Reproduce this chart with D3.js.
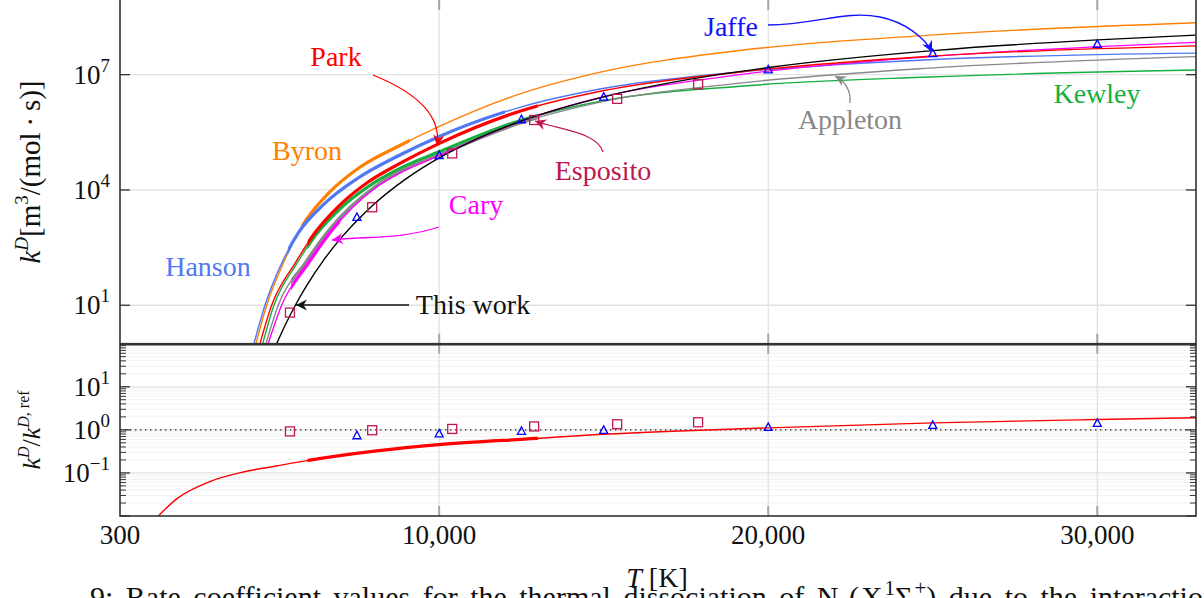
<!DOCTYPE html>
<html><head><meta charset="utf-8">
<script src="https://cdn.jsdelivr.net/npm/d3@7"></script>
<style>
body{margin:0;background:#fff}
svg{display:block}
text{font-family:"Liberation Serif","Times New Roman",serif;fill:#111}
</style>
</head><body>
<svg id="c" width="1204" height="598"></svg>
<script>
// ---------- data (k given as log10 values) ----------
const tempTicks=[300,10000,20000,30000];
const tempTickLabels=["300","10,000","20,000","30,000"];
const kTickVals=[10,1e4,1e7];
const kTickExp=["1","4","7"];
const ratioTickVals=[0.1,1,10];
const ratioTickExp=["\u22121","0","1"];

const thisWorkT=[5060,5300,5650,6000,6500,7000,7500,8000,9000,10000,11000,12500,15000,17500,20000,25000,30000,33000];
const thisWorkLogK=[0,0.449,1.034,1.549,2.188,2.733,3.20,3.614,4.294,4.835,5.273,5.795,6.423,6.863,7.186,7.626,7.906,8.03];

const byronT=[4432,4757,5261,5841,6625,7612,8806,10022,12452,14973,19136,24908,33000];
const byronLogK=[0,1.0,2.09,3.07,3.906,4.603,5.157,5.66,6.50,7.08,7.63,8.03,8.35];
const byronRange=[5800,9100];

const hansonT=[4371,4705,5212,5729,6498,7524,8806,10022,12452,14973,19136,24908,33000];
const hansonLogK=[0,1.0,2.09,2.894,3.63,4.304,4.91,5.40,6.15,6.64,7.07,7.39,7.56];
const hansonRange=[5400,12000];

const parkT=[4553,4909,5617,6236,6973,7831,8806,10022,12452,14973,19136,24908,33000];
const parkLogK=[0,1.0,2.09,2.899,3.599,4.2,4.69,5.22,6.05,6.58,7.07,7.48,7.75];
const parkRange=[6000,13000];

const kewleyT=[4635,4978,5677,6252,6964,7816,8806,10022,12452,14973,19136,24908,33000];
const kewleyLogK=[0,1.0,2.09,2.834,3.492,4.07,4.56,5.0,5.80,6.32,6.70,6.94,7.12];
const kewleyRange=[6000,13000];

const appletonT=[4736,5109,5920,6573,7272,8017,8806,10022,12452,14973,19136,24908,33000];
const appletonLogK=[0,1.0,2.09,2.873,3.531,4.065,4.48,4.92,5.74,6.30,6.78,7.17,7.47];
const appletonRange=[5500,13000];

const caryT=[4802,5212,6021,6671,7351,8062,8806,10022,12452,14973,19136,24908,33000];
const caryLogK=[0,1.0,2.09,2.875,3.529,4.052,4.44,4.90,5.78,6.42,7.0,7.47,7.84];
const caryRange=[5500,7000];

const espositoT=[5465,7964,10396,12886,15409,17869];
const espositoLogK=[0.81,3.55,4.95,5.82,6.37,6.75];
const espositoRatio=[0.92,0.98,1.05,1.2,1.35,1.5];

const jaffeT=[7500,10000,12500,15000,20000,25000,30000];
const jaffeLogK=[3.30,4.91,5.84,6.43,7.14,7.56,7.80];
const jaffeRatio=[0.75,0.83,0.95,1.0,1.17,1.3,1.45];

const parkRatioT=[1464,2022,3034,4046,5061,6021,8099,9983,12957,14579,20000,25000,30000,33000];
const parkRatio=[0.01,0.025,0.063,0.105,0.145,0.195,0.324,0.452,0.631,0.759,1.11,1.45,1.74,1.91];

// ---------- scales ----------
const svg=d3.select('#c');
const L=120,R=1196,topY0=-2.2,topY1=343.7,botY0=343.7,botY1=516;
const x=d3.scaleLinear().domain([300,33000]).range([L,R]);
const yT=d3.scaleLog().domain([1,1e9]).range([topY1,topY0]);
const yB=d3.scaleLog().domain([0.01,100]).range([botY1,botY0]);
const pow10=v=>Math.pow(10,v);

const defs=svg.append('defs');
function clip(id,x0,y0,x1,y1){defs.append('clipPath').attr('id',id).append('rect').attr('x',x0).attr('y',y0).attr('width',x1-x0).attr('height',y1-y0);}
clip('cTop',L,topY0-5,R,topY1);
clip('cBot',L,botY0,R,botY1);

const gridC='#e2e2e2', minorC='#f2f2f2';

// ---------- grids ----------
const gTop=svg.append('g');
gTop.selectAll('.vg').data(tempTicks.slice(1)).join('line')
  .attr('x1',d=>x(d)).attr('x2',d=>x(d)).attr('y1',0).attr('y2',topY1)
  .attr('stroke',gridC).attr('stroke-width',1.3);
gTop.selectAll('.hg').data(kTickVals).join('line')
  .attr('x1',L).attr('x2',R).attr('y1',d=>yT(d)).attr('y2',d=>yT(d))
  .attr('stroke',gridC).attr('stroke-width',1.3);

const gBot=svg.append('g');
const minorVals=[];
[0.01,0.1,1,10].forEach(dec=>{for(let m=2;m<=9;m++)minorVals.push(dec*m);});
gBot.selectAll('.mg').data(minorVals).join('line')
  .attr('x1',L).attr('x2',R).attr('y1',d=>yB(d)).attr('y2',d=>yB(d))
  .attr('stroke',minorC).attr('stroke-width',1);
gBot.selectAll('.hg').data(ratioTickVals).join('line')
  .attr('x1',L).attr('x2',R).attr('y1',d=>yB(d)).attr('y2',d=>yB(d))
  .attr('stroke',gridC).attr('stroke-width',1.3);
gBot.selectAll('.vg').data(tempTicks.slice(1)).join('line')
  .attr('x1',d=>x(d)).attr('x2',d=>x(d)).attr('y1',botY0).attr('y2',botY1)
  .attr('stroke',gridC).attr('stroke-width',1.3);

[[0,topY1],[botY0,botY1]].forEach(([a,b])=>{
  svg.append('g').selectAll('line').data(tempTicks.slice(1)).join('line')
    .attr('x1',d=>x(d)).attr('x2',d=>x(d)).attr('y1',a).attr('y2',a+10)
    .attr('stroke','#a6a6a6').attr('stroke-width',2);
  svg.append('g').selectAll('line').data(tempTicks.slice(1)).join('line')
    .attr('x1',d=>x(d)).attr('x2',d=>x(d)).attr('y1',b-10).attr('y2',b)
    .attr('stroke','#a6a6a6').attr('stroke-width',2);
});

// ---------- top panel curves ----------
const series=[
  {T:byronT,K:byronLogK.map(pow10),c:'#ff8000',r:byronRange},
  {T:hansonT,K:hansonLogK.map(pow10),c:'#4f78f2',r:hansonRange},
  {T:kewleyT,K:kewleyLogK.map(pow10),c:'#13b03e',r:kewleyRange},
  {T:appletonT,K:appletonLogK.map(pow10),c:'#888888',r:appletonRange},
  {T:caryT,K:caryLogK.map(pow10),c:'#ff00ff',r:caryRange},
  {T:parkT,K:parkLogK.map(pow10),c:'#ff0000',r:parkRange},
  {T:thisWorkT,K:thisWorkLogK.map(pow10),c:'#000000',r:null}
];
const lineTop=d3.line().x(d=>x(d[0])).y(d=>yT(d[1])).curve(d3.curveMonotoneX);
const curves=svg.append('g').attr('clip-path','url(#cTop)');
series.forEach((s,i)=>{
  const pts=s.T.map((t,j)=>[t,s.K[j]]);
  curves.append('path').attr('d',lineTop(pts)).attr('fill','none').attr('stroke',s.c).attr('stroke-width',1.4);
  if(s.r){
    const id='th'+i;
    clip(id,x(s.r[0]),topY0-5,x(s.r[1]),topY1);
    curves.append('g').attr('clip-path',`url(#${id})`).append('path').attr('d',lineTop(pts))
      .attr('fill','none').attr('stroke',s.c).attr('stroke-width',3.2);
  }
});

const sqC='#c0164f', triC='#0000ff';
function squares(g,T,V,ys){
  g.selectAll('rect.sq').data(T).join('rect')
   .attr('x',(d,i)=>x(d)-4.5).attr('y',(d,i)=>ys(V[i])-4.5).attr('width',9).attr('height',9)
   .attr('fill','none').attr('stroke',sqC).attr('stroke-width',1.3);
}
function triangles(g,T,V,ys){
  g.selectAll('path.tr').data(T).join('path')
   .attr('d',(d,i)=>{const cx=x(d),cy=ys(V[i]);return `M${cx-4},${cy+3.5}L${cx+4},${cy+3.5}L${cx},${cy-4}Z`;})
   .attr('fill','none').attr('stroke',triC).attr('stroke-width',1.3);
}
squares(curves.append('g'),espositoT,espositoLogK.map(pow10),yT);
triangles(curves.append('g'),jaffeT,jaffeLogK.map(pow10),yT);

// ---------- bottom panel ----------
const bot=svg.append('g').attr('clip-path','url(#cBot)');
bot.append('line').attr('x1',L).attr('x2',R).attr('y1',yB(1)).attr('y2',yB(1))
  .attr('stroke','#222').attr('stroke-width',1.4).attr('stroke-dasharray','1.4,3.6');
const lineBot=d3.line().x(d=>x(d[0])).y(d=>yB(d[1])).curve(d3.curveMonotoneX);
const rpts=parkRatioT.map((t,j)=>[t,parkRatio[j]]);
bot.append('path').attr('d',lineBot(rpts)).attr('fill','none').attr('stroke','#ff0000').attr('stroke-width',1.4);
clip('thB',x(parkRange[0]),botY0,x(parkRange[1]),botY1);
bot.append('g').attr('clip-path','url(#thB)').append('path').attr('d',lineBot(rpts))
  .attr('fill','none').attr('stroke','#ff0000').attr('stroke-width',3.2);
squares(bot.append('g'),espositoT,espositoRatio,yB);
triangles(bot.append('g'),jaffeT,jaffeRatio,yB);

// ---------- y ticks ----------
const axC='#333';
kTickVals.forEach(v=>{
  [[L,L+10],[R-10,R]].forEach(([a,b])=>svg.append('line').attr('x1',a).attr('x2',b).attr('y1',yT(v)).attr('y2',yT(v)).attr('stroke',axC).attr('stroke-width',1.3));
});
[0.01,0.1,1,10,100].forEach(v=>{
  [[L,L+10],[R-10,R]].forEach(([a,b])=>svg.append('line').attr('x1',a).attr('x2',b).attr('y1',yB(v)).attr('y2',yB(v)).attr('stroke',axC).attr('stroke-width',1.3));
});
minorVals.forEach(v=>{
  [[L,L+6],[R-6,R]].forEach(([a,b])=>svg.append('line').attr('x1',a).attr('x2',b).attr('y1',yB(v)).attr('y2',yB(v)).attr('stroke',axC).attr('stroke-width',1));
});

svg.append('rect').attr('x',L).attr('y',topY0).attr('width',R-L).attr('height',topY1-topY0).attr('fill','none').attr('stroke',axC).attr('stroke-width',1.6);
svg.append('rect').attr('x',L).attr('y',botY0+1).attr('width',R-L).attr('height',botY1-botY0-1).attr('fill','none').attr('stroke',axC).attr('stroke-width',1.6);

// ---------- tick labels ----------
function powLabel(yPos,exp){
  const t=svg.append('text').attr('x',110).attr('y',yPos+9).attr('text-anchor','end').attr('font-size',27);
  t.append('tspan').text('10');
  t.append('tspan').attr('font-size',19).attr('dy',-12).text(exp);
}
kTickVals.forEach((v,i)=>powLabel(yT(v),kTickExp[i]));
ratioTickVals.forEach((v,i)=>powLabel(yB(v),ratioTickExp[i]));

svg.selectAll('text.xt').data(tempTicks).join('text')
  .attr('x',d=>x(d)).attr('y',544).attr('text-anchor','middle').attr('font-size',27)
  .text((d,i)=>tempTickLabels[i]);

// axis titles
const yl=svg.append('text').attr('transform','translate(40,172) rotate(-90)').attr('text-anchor','middle').attr('font-size',29);
yl.append('tspan').attr('font-style','italic').text('k');
yl.append('tspan').attr('font-style','italic').attr('font-size',19).attr('dy',-12).text('D');
yl.append('tspan').attr('dy',12).text('[m');
yl.append('tspan').attr('font-size',19).attr('dy',-12).text('3');
yl.append('tspan').attr('dy',12).text('/(mol\u2009\u00b7\u2009s)]');

const yl2=svg.append('text').attr('transform','translate(40,430) rotate(-90)').attr('text-anchor','middle').attr('font-size',26);
yl2.append('tspan').attr('font-style','italic').text('k');
yl2.append('tspan').attr('font-style','italic').attr('font-size',16).attr('dy',-11).text('D');
yl2.append('tspan').attr('dy',11).text('/');
yl2.append('tspan').attr('font-style','italic').text('k');
yl2.append('tspan').attr('font-style','italic').attr('font-size',16).attr('dy',-11).text('D');
yl2.append('tspan').attr('font-size',16).text(', ref');

const xl=svg.append('text').attr('x',657).attr('y',587).attr('text-anchor','middle').attr('font-size',28);
xl.append('tspan').attr('font-style','italic').text('T');
xl.append('tspan').text(' [K]');

const cap=svg.append('text').attr('x',90).attr('y',607).attr('font-size',30).attr('word-spacing',5);
cap.append('tspan').text('9: Rate coefficient values for the thermal dissociation of N');
cap.append('tspan').attr('font-size',21).attr('dy',6).text('2');
cap.append('tspan').attr('dy',-6).attr('letter-spacing',2).text('(X');
cap.append('tspan').attr('font-size',21).attr('dy',-12).text('1');
cap.append('tspan').attr('dy',12).attr('letter-spacing',2).text('\u03a3');
cap.append('tspan').attr('font-size',21).attr('dy',-12).text('+');
cap.append('tspan').attr('dy',12).text(') due to the interaction of');

// ---------- annotations ----------
const ann=[
  {t:'Park',x:336,y:66,c:'#ff0000',p:'M373,75 C415,92 442,115 437,146'},
  {t:'Byron',x:307,y:160,c:'#ff8000',p:null},
  {t:'Hanson',x:208,y:276,c:'#4f78f2',p:null},
  {t:'Cary',x:476,y:214,c:'#ff00ff',p:'M439,227 C400,240 362,236 332,240'},
  {t:'This work',x:473,y:314,c:'#111',p:'M409,305 L296,305'},
  {t:'Esposito',x:603,y:180,c:'#c0164f',p:'M603,152 C597,132 560,130 535,121'},
  {t:'Jaffe',x:731,y:36,c:'#1212ff',p:'M768,25 C815,25 845,10 880,17 C905,22 925,38 932,52'},
  {t:'Appleton',x:850,y:129,c:'#888888',p:'M850,103 C851,91 846,82 835,76'},
  {t:'Kewley',x:1097,y:103,c:'#13b03e',p:null}
];
ann.forEach((a,i)=>{
  if(a.p){
    const mid='ah'+i;
    defs.append('marker').attr('id',mid).attr('viewBox','-12 -7 14 14').attr('refX',0).attr('refY',0)
      .attr('markerWidth',14).attr('markerHeight',14).attr('markerUnits','userSpaceOnUse').attr('orient','auto')
      .append('path').attr('d','M0,0 L-11,-5.5 L-7.5,0 L-11,5.5 Z').attr('fill',a.c);
    svg.append('path').attr('d',a.p).attr('fill','none').attr('stroke',a.c).attr('stroke-width',1.3).attr('marker-end',`url(#${mid})`);
  }
  svg.append('text').attr('x',a.x).attr('y',a.y).attr('text-anchor','middle').attr('font-size',28).style('fill',a.c).text(a.t);
});
</script>
</body></html>
